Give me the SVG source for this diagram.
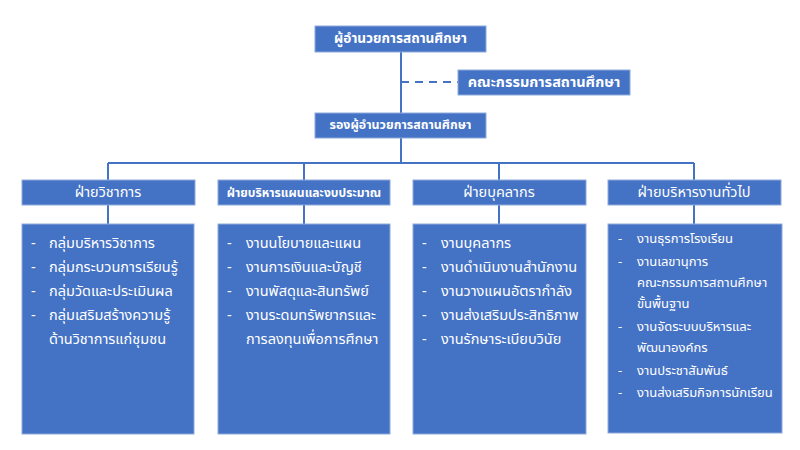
<svg xmlns="http://www.w3.org/2000/svg" width="800" height="450" viewBox="0 0 800 450">
<style>
.box{fill:#4472C4;stroke:#8FAADC;stroke-width:1}
.ln{stroke:#4472C4;stroke-width:2;fill:none}
text{font-family:"Noto Sans Thai","Leelawadee UI",Tahoma,"Noto Sans","DejaVu Sans",sans-serif;fill:#fff;font-size:14.5px;dominant-baseline:central}
.t{text-anchor:middle}
.b{font-weight:bold}
.s{font-size:13px}
</style>
<rect width="800" height="450" fill="#fff"/>
<g id="connectors">
<path class="ln" d="M401 52V113M401 138V163M108 163H694M108 163V180M304 163V180M499 163V180M694 163V180M108 205V224M304 205V224M499 205V224M694 205V224"/>
<path class="ln" d="M401 82H458" stroke-dasharray="8,6"/>
</g>
<g id="director"><rect class="box" x="315" y="26" width="171" height="26"/><text class="t b" x="400.5" y="39" style="font-size:13.6px">ผู้อำนวยการสถานศึกษา</text></g>
<g id="committee"><rect class="box" x="458" y="70" width="172" height="25"/><text class="t b" x="544" y="82.5" style="font-size:14.5px">คณะกรรมการสถานศึกษา</text></g>
<g id="deputy"><rect class="box" x="315" y="113" width="171" height="25"/><text class="t b" x="400.5" y="125.5" style="font-size:12.4px">รองผู้อำนวยการสถานศึกษา</text></g>
<g id="div1"><rect class="box" x="22" y="180" width="173" height="25"/><text class="t" x="108" y="192.5">ฝ่ายวิชาการ</text></g>
<g id="div2"><rect class="box" x="218" y="180" width="172" height="25"/><text class="t b" x="304" y="192.5" style="font-size:12.1px">ฝ่ายบริหารแผนและงบประมาณ</text></g>
<g id="div3"><rect class="box" x="413" y="180" width="173" height="25"/><text class="t" x="499" y="192.5">ฝ่ายบุคลากร</text></g>
<g id="div4"><rect class="box" x="608" y="180" width="173" height="25"/><text class="t" x="694" y="192.5">ฝ่ายบริหารงานทั่วไป</text></g>
<g id="list1"><rect class="box" x="22" y="224" width="172" height="210"/>
<text x="31" y="244">-</text><text x="49" y="244">กลุ่มบริหารวิชาการ</text>
<text x="31" y="268">-</text><text x="49" y="268">กลุ่มกระบวนการเรียนรู้</text>
<text x="31" y="292">-</text><text x="49" y="292">กลุ่มวัดและประเมินผล</text>
<text x="31" y="316">-</text><text x="49" y="316">กลุ่มเสริมสร้างความรู้</text>
<text x="49" y="340">ด้านวิชาการแก่ชุมชน</text>
</g>
<g id="list2"><rect class="box" x="218" y="224" width="172" height="210"/>
<text x="227" y="244">-</text><text x="246" y="244">งานนโยบายและแผน</text>
<text x="227" y="268">-</text><text x="246" y="268">งานการเงินและบัญชี</text>
<text x="227" y="292">-</text><text x="246" y="292">งานพัสดุและสินทรัพย์</text>
<text x="227" y="316">-</text><text x="246" y="316">งานระดมทรัพยากรและ</text>
<text x="246" y="340">การลงทุนเพื่อการศึกษา</text>
</g>
<g id="list3"><rect class="box" x="413" y="224" width="173" height="210"/>
<text x="422" y="244">-</text><text x="441" y="244">งานบุคลากร</text>
<text x="422" y="268">-</text><text x="441" y="268">งานดำเนินงานสำนักงาน</text>
<text x="422" y="292">-</text><text x="441" y="292">งานวางแผนอัตรากำลัง</text>
<text x="422" y="316">-</text><text x="441" y="316">งานส่งเสริมประสิทธิภาพ</text>
<text x="422" y="340">-</text><text x="441" y="340">งานรักษาระเบียบวินัย</text>
</g>
<g id="list4"><rect class="box" x="608" y="224" width="174" height="209"/>
<text class="s" x="618" y="239">-</text><text class="s" x="637" y="239">งานธุรการโรงเรียน</text>
<text class="s" x="618" y="262">-</text><text class="s" x="637" y="262">งานเลขานุการ</text>
<text class="s" x="637" y="283">คณะกรรมการสถานศึกษา</text>
<text class="s" x="637" y="304">ขั้นพื้นฐาน</text>
<text class="s" x="618" y="327">-</text><text class="s" x="637" y="327">งานจัดระบบบริหารและ</text>
<text class="s" x="637" y="348">พัฒนาองค์กร</text>
<text class="s" x="618" y="371">-</text><text class="s" x="637" y="371">งานประชาสัมพันธ์</text>
<text class="s" x="618" y="393">-</text><text class="s" x="637" y="393">งานส่งเสริมกิจการนักเรียน</text>
</g>
</svg>
